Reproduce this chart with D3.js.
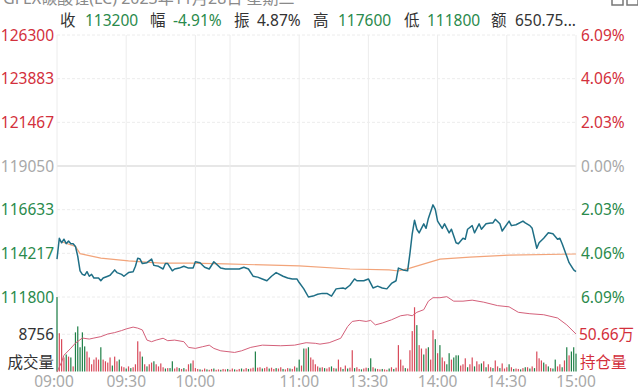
<!DOCTYPE html>
<html><head><meta charset="utf-8">
<script src="https://cdn.jsdelivr.net/npm/d3@7"></script>
<style>
html,body{margin:0;padding:0;background:#fff;}
svg{display:block;font-family:"Noto Sans","Noto Sans CJK SC",sans-serif;}
</style>
</head><body>
<svg id="c" width="638" height="390"></svg>
<script>
// ---------- data ----------
const titleText = "GFEX碳酸锂(LC) 2023年11月28日 星期二";
const headerLabels = ["收", "幅", "振", "高", "低", "额"];
const headerValues = ["113200", "-4.91%", "4.87%", "117600", "111800", "650.75..."];
const headerValueUp = [false, false, null, false, false, null];

const priceTicks = [126300, 123883, 121467, 119050, 116633, 114217, 111800];
const pctTicks = ["6.09%", "4.06%", "2.03%", "0.00%", "2.03%", "4.06%", "6.09%"];
const preClose = 119050;

const timeTickMins = [0, 30, 60, 105, 135, 165, 195, 225];
const timeTickLabels = ["09:00", "09:30", "10:00", "11:00", "13:30", "14:00", "14:30", "15:00"];
const extraGridMins = [75];
const totalMins = 225;

// price (trading minute since 09:00, last price)
const priceMin = [0,1,2,3,4,5,6,7,8,9,
  10,11,12,13,14,15,16,18,19,20,
  22,23,25,26,28,29,31,33,34,35,
  36,37,39,41,42,44,46,47,48,50,
  51,53,55,57,59,60,62,64,66,68,
  71,73,75,77,79,81,83,85,87,89,
  91,93,95,98,100,102,104,105,107,109,
  111,113,115,117,119,121,124,125,127,129,
  130,133,135,137,139,141,143,145,147,148,
  150,152,153,154,155,156,157,159,160,161,
  163,164,165,167,168,170,171,173,174,176,
  177,178,180,181,183,184,186,188,189,190,
  192,193,196,197,199,202,203,205,206,208,
  209,211,213,215,217,218,219,221,222,224,
  225];
const price = [113900,115050,114800,115000,114750,114900,114750,114750,114600,114050,
  113250,113050,113000,113200,112950,113050,112850,112850,112700,112850,
  112950,113000,113300,113150,113050,112950,113150,113200,113500,113950,
  113900,113650,113700,113900,113550,113500,113350,113650,113650,113250,
  113350,113400,113500,113400,113400,113750,113700,113450,113350,113750,
  113400,113350,113350,113350,113350,113450,113350,112950,112900,112800,
  112700,112950,113150,112950,112850,112800,112800,112600,112250,111800,
  111850,111950,112000,112000,111850,112250,112300,112250,112450,112800,
  112700,112700,112800,112300,112400,112300,112250,112550,112700,113400,
  113300,113250,114200,115300,116050,115550,115350,115850,115600,116150,
  116900,116650,116000,115600,115850,115350,115550,114800,114750,115050,
  115000,115550,115750,115350,115850,115550,115850,115900,115900,116100,
  115850,115450,116000,115750,115800,116000,115900,115750,115600,114500,
  114800,115050,115350,115300,115000,115050,114750,114050,113700,113300,
  113200];

// average price
const avgMin = [1,8,10,19,31,45,58,73,105,127,144,148,153,166,179,196,225];
const avgPrice = [114900,114600,114200,113950,113800,113680,113680,113630,113520,113350,113300,113240,113400,113900,114010,114120,114180];

// volume per minute (positive = up/red, negative = down/green)
const volume = [
  -17500,9000,7600,3300,-4000,3500,-3300,1200,-9200,-10600,
  -5700,-9200,-5900,4700,3300,1700,2800,3300,2800,-5700,
  2800,2400,2100,3300,-1400,3500,2400,-2800,1200,1000,
  -700,1200,-800,1000,1700,7100,4700,-3500,1700,-1200,
  1700,2100,-2400,1700,1200,1900,1000,-700,800,-800,
  -2400,700,1000,-800,600,-800,500,1700,-1900,2600,
  800,600,-500,400,700,-500,400,600,-700,400,
  500,-400,600,500,-600,400,700,-500,400,600,
  -700,500,800,-600,700,900,-4700,900,1000,-700,
  800,1100,-700,900,600,-800,700,1000,-600,500,
  800,-700,600,1200,-900,-2800,1400,-5400,5400,-5700,
  3300,2800,1700,1200,-900,1000,-800,700,1000,-1200,
  800,-700,2800,1000,-600,1400,-700,900,5000,-800,
  1000,600,-500,700,900,-800,-3100,1000,-700,600,
  500,-600,500,400,-700,1000,-600,900,6200,2800,
  1400,-800,700,5000,9500,15100,-10900,6200,5400,-4000,
  5400,-5700,2800,9700,-7600,4300,-6200,3300,2400,-1700,
  -4300,2800,-3300,-3800,-3800,1400,1700,3100,-1000,1700,
  3300,-1200,2400,1700,-1900,2400,-1000,1700,1000,-800,
  2600,1200,-800,1900,700,1000,-1700,1000,-600,700,
  600,-500,800,-1000,1000,-700,1200,-800,4700,3100,
  2600,-2100,1700,-1200,800,-700,-2800,1200,1700,-1000,
  2600,-5700,3800,-4700,-5700,-4200];
const volMid = 8756;
const volLabel = "成交量";

// open interest (万)
const oiMin = [0,2,3,6,8,11,14,16,19,22,
  25,28,30,33,35,37,39,41,43,46,
  48,51,55,57,60,63,66,68,71,77,
  80,84,89,97,103,108,112,114,118,123,
  126,128,131,134,136,138,141,145,149,152,
  154,156,159,161,163,166,169,172,176,180,
  185,191,196,200,205,211,217,221,225];
const oi = [48.78,49.28,49.61,49.96,50.21,50.46,50.41,50.46,50.53,50.66,
  50.73,50.83,50.91,51.00,50.95,50.86,50.36,50.28,50.36,50.45,
  50.33,50.36,50.28,50.00,49.95,50.03,50.11,49.95,49.83,49.75,
  49.83,50.00,50.11,50.08,50.11,50.23,50.20,50.16,50.23,50.45,
  51.03,51.28,51.33,51.28,51.33,51.11,51.20,51.36,51.56,51.61,
  51.56,51.73,51.86,52.28,52.45,52.45,52.50,52.28,52.28,52.33,
  52.23,52.06,52.00,51.73,51.66,51.61,51.45,51.11,50.66];
const oiMid = 50.66;
const oiLabel = "持仓量";

if (priceMin.length !== price.length || avgMin.length !== avgPrice.length || oiMin.length !== oi.length || volume.length !== totalMins + 1) {
  console.error("data length mismatch", priceMin.length, price.length, oiMin.length, oi.length, volume.length);
}

// ---------- layout ----------
const L = 57, R = 576, PT = 35, PB = 297, VB = 371.5;
const RED = "#d3303c", GREEN = "#2a8a4c", GRAY = "#a8a8a8", DARK = "#333";
const FS = 15.5;

const svg = d3.select("#c");
svg.append("rect").attr("width", 638).attr("height", 390).attr("fill", "#fff");

const x = d3.scaleLinear().domain([0, totalMins]).range([L, R]);
const y = d3.scaleLinear().domain([priceTicks[6], priceTicks[0]]).range([PB, PT]);
const volMax = volMid * 2;
const yv = d3.scaleLinear().domain([0, volMax]).range([VB, PB]);
const oiHalf = 1.85;
const yo = d3.scaleLinear().domain([oiMid - oiHalf, oiMid + oiHalf]).range([VB, 296.5]);

// ---------- header ----------
svg.append("text").attr("x", 3).attr("y", 4).attr("font-size", 16).attr("fill", "#8a8a8a").text(titleText);
svg.append("rect").attr("x", 612).attr("y", -6).attr("width", 11).attr("height", 11).attr("fill", "none").attr("stroke", "#777").attr("stroke-width", 1.5);
svg.append("rect").attr("x", 627).attr("y", -6).attr("width", 11).attr("height", 11).attr("fill", "none").attr("stroke", "#777").attr("stroke-width", 1.5);

const hdrLabelX = [60, 150, 234, 313, 404, 491];
const hdrValueX = [85, 173, 257, 338, 427, 515];
headerLabels.forEach((lb, i) => {
  svg.append("text").attr("x", hdrLabelX[i]).attr("y", 26).attr("font-size", FS).attr("fill", DARK).text(lb);
  svg.append("text").attr("x", hdrValueX[i]).attr("y", 26).attr("font-size", FS)
    .attr("fill", headerValueUp[i] === null ? DARK : (headerValueUp[i] ? RED : GREEN)).text(headerValues[i]);
});

// ---------- grid ----------
const grid = svg.append("g");
priceTicks.forEach((p, i) => {
  grid.append("line").attr("x1", L).attr("x2", R).attr("y1", y(p)).attr("y2", y(p))
    .attr("stroke", p === preClose ? "#cfcfcf" : "#ececec").attr("stroke-width", 1)
    .attr("stroke-dasharray", p === preClose ? null : "3,2");
});
grid.append("line").attr("x1", L).attr("x2", R).attr("y1", yv(volMid)).attr("y2", yv(volMid))
  .attr("stroke", "#ececec").attr("stroke-dasharray", "3,2");
timeTickMins.concat(extraGridMins).forEach(m => {
  grid.append("line").attr("x1", x(m)).attr("x2", x(m)).attr("y1", PT).attr("y2", VB)
    .attr("stroke", "#ececec").attr("stroke-width", 1);
});

// ---------- axis labels ----------
const la = svg.append("g").attr("font-size", FS);
priceTicks.forEach((p, i) => {
  const col = p > preClose ? RED : (p < preClose ? GREEN : GRAY);
  la.append("text").attr("x", 54).attr("y", y(p)).attr("dy", "0.36em").attr("text-anchor", "end").attr("fill", col).text(p);
  la.append("text").attr("x", 581).attr("y", y(p)).attr("dy", "0.36em").attr("text-anchor", "start").attr("fill", col).text(pctTicks[i]);
});
la.append("text").attr("x", 54).attr("y", yv(volMid)).attr("dy", "0.36em").attr("text-anchor", "end").attr("fill", DARK).text(volMid);
la.append("text").attr("x", 54).attr("y", 362).attr("dy", "0.36em").attr("text-anchor", "end").attr("fill", DARK).text(volLabel);
la.append("text").attr("x", 579).attr("y", yo(oiMid)).attr("dy", "0.36em").attr("text-anchor", "start").attr("fill", RED).text(oiMid.toFixed(2) + "万");
la.append("text").attr("x", 580).attr("y", 362).attr("dy", "0.36em").attr("text-anchor", "start").attr("fill", RED).text(oiLabel);

timeTickMins.forEach((m, i) => {
  let cx = x(m);
  if (i === 0) cx -= 3;
  svg.append("text").attr("x", cx).attr("y", 381).attr("dy", "0.36em").attr("text-anchor", "middle")
    .attr("font-size", FS).attr("fill", GRAY).text(timeTickLabels[i]);
});

// ---------- volume bars ----------
svg.append("g").selectAll("rect").data(volume).join("rect")
  .attr("x", (d, i) => x(i) - 0.6)
  .attr("width", 1.2)
  .attr("y", d => yv(Math.abs(d)))
  .attr("height", d => VB - yv(Math.abs(d)))
  .attr("fill", d => d >= 0 ? "#d84a5a" : "#1f8048");

// ---------- open interest ----------
svg.append("path").datum(oiMin.map((m, i) => [m, oi[i]]))
  .attr("fill", "none").attr("stroke", "#d4607a").attr("stroke-width", 1)
  .attr("d", d3.line().x(d => x(d[0])).y(d => yo(d[1])));

// ---------- average line ----------
svg.append("path").datum(avgMin.map((m, i) => [m, avgPrice[i]]))
  .attr("fill", "none").attr("stroke", "#f2a47a").attr("stroke-width", 1.2)
  .attr("d", d3.line().x(d => x(d[0])).y(d => y(d[1])));

// ---------- price line ----------
svg.append("path").datum(priceMin.map((m, i) => [m, price[i]]))
  .attr("fill", "none").attr("stroke", "#1f6f86").attr("stroke-width", 1.5)
  .attr("stroke-linejoin", "round")
  .attr("d", d3.line().x(d => x(d[0])).y(d => y(d[1])));
</script>
</body></html>
